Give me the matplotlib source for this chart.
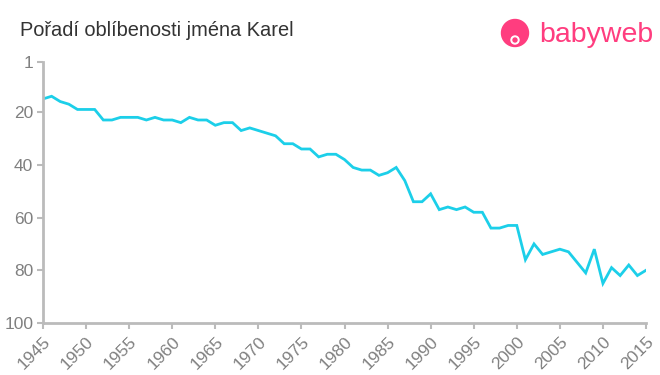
import matplotlib
matplotlib.use("Agg")
import matplotlib.pyplot as plt
from matplotlib.patches import Circle

plt.rcParams["font.family"] = ["Liberation Sans", "DejaVu Sans"]

years = list(range(1945, 2016))
ranks = [15, 14, 16, 17, 19, 19, 19, 23, 23, 22, 22, 22, 23, 22, 23, 23, 24, 22, 23, 23,
         25, 24, 24, 27, 26, 27, 28, 29, 32, 32, 34, 34, 37, 36, 36, 38, 41, 42, 42, 44,
         43, 41, 46, 54, 54, 51, 57, 56, 57, 56, 58, 58, 64, 64, 63, 63, 76, 70, 74, 73,
         72, 73, 77, 81, 72, 85, 79, 82, 78, 82, 80]
xticks = list(range(1945, 2016, 5))
yticks = [1, 20, 40, 60, 80, 100]
title = "Pořadí oblíbenosti jména Karel"

fig = plt.figure(figsize=(6.6, 3.75), dpi=100)
ax = fig.add_axes([43/660, 1-323/375, (646-43)/660, (323-62)/375])
ax.plot(years, ranks, color="#1ccfe9", lw=2, solid_joinstyle="miter")
ax.set_xlim(1945, 2015)
ax.set_ylim(100, 1)
ax.set_xticks(xticks)
ax.set_yticks(yticks)
ax.set_xticklabels([str(x) for x in xticks], rotation=45, ha="right", va="top",
                   rotation_mode="anchor")
for s in ["top", "right"]:
    ax.spines[s].set_visible(False)
for s in ["left", "bottom"]:
    ax.spines[s].set_color("#bbbbbb")
    ax.spines[s].set_linewidth(2)
ax.tick_params(axis="both", colors="#bbbbbb", length=4, width=1.5, labelcolor="#808080",
               labelsize=12.5, pad=3)
ax.tick_params(axis="x", pad=4)

fig.text(20/660, 1-31/375, title, fontsize=14.4, color="#333333", va="center", ha="left")

# logo
fig.patches.append(Circle((515, 375-33), 13.5, transform=None, color="#ff3d7f"))
fig.patches.append(Circle((515, 375-40), 4, transform=None, color="white"))
fig.patches.append(Circle((515, 375-40), 2, transform=None, color="#ff3d7f"))
fig.text(539/660, 1-35/375, "babyweb", fontsize=20.5, color="#ff3d7f", va="center", ha="left")

fig.savefig("out.png", dpi=100, facecolor="white")
